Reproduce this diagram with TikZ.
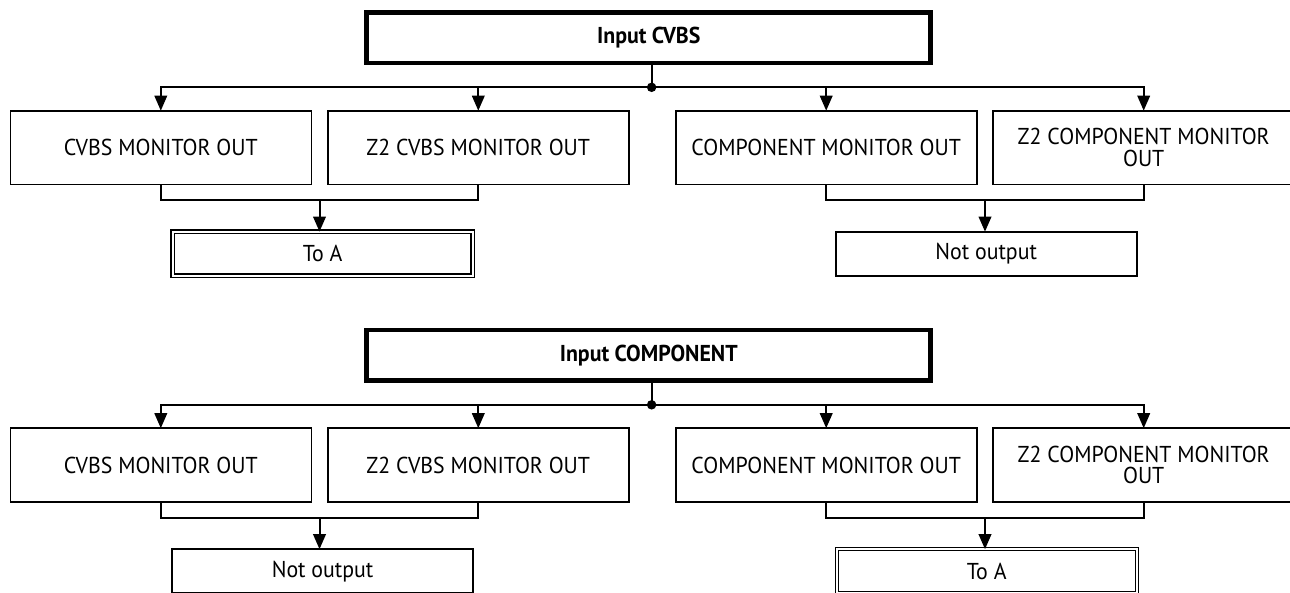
\documentclass[tikz,border=0pt]{standalone}
\usepackage{fontspec}
\setmainfont{PT Sans}[FakeStretch=0.95]
\usetikzlibrary{arrows.meta}
\tikzset{
  base/.style={inner sep=0pt, outer sep=0pt, align=center, font=\fontsize{23}{21.6}\selectfont},
  inbox/.style={base, draw, line width=4.7pt, minimum width=564, minimum height=50.5, font=\fontsize{23}{21.6}\selectfont\bfseries},
  outbox/.style={base, draw, line width=1.6pt, minimum width=301, minimum height=73.6},
  resbox/.style={base, draw, line width=1.6pt, minimum width=301, minimum height=44},
  dblbox/.style={base, draw, line width=1.1pt, double, double distance=2.2pt, minimum width=300, minimum height=44},
  conn/.style={line width=2pt},
  arr/.style={conn, -{Triangle[width=12.5pt,length=15pt]}},
  dot/.style={circle, fill, inner sep=0pt, minimum size=9.5pt}
}
\begin{document}
\begin{tikzpicture}[x=1pt,y=-1pt]
\useasboundingbox (0,0) rectangle (1290,592);
\clip (0,0) rectangle (1290,592);
\fill[white] (0,0) rectangle (1290,592);
% ---------- block 1 ----------
\node[inbox] (in1) at (648.75,37.75) {Input CVBS};
\node[dot] (j1) at (651.6,87.3) {};
\node[outbox] (a1) at (160.8,147.5) {CVBS MONITOR OUT};
\node[outbox] (b1) at (478.3,147.5) {Z2 CVBS MONITOR OUT};
\node[outbox] (c1) at (826.2,147.5) {COMPONENT MONITOR OUT};
\node[outbox] (d1) at (1143.7,147.5) {Z2 COMPONENT MONITOR\\OUT};
\node[dblbox] (r1) at (322.6,253.65) {To A};
\node[resbox] (s1) at (986.2,253.7) {Not output};
\coordinate (m1) at (319.5,200);
\coordinate (n1) at (985,200);
\draw[conn] (j1 |- in1.south) -- (j1.center);
\draw[arr] (j1.center) -| (a1.north);
\draw[arr] (j1.center) -| (b1.north);
\draw[arr] (j1.center) -| (c1.north);
\draw[arr] (j1.center) -| (d1.north);
\draw[conn] (a1.south) |- (m1) -| (b1.south);
\draw[conn] (c1.south) |- (n1) -| (d1.south);
\draw[arr] (m1) -- (m1 |- r1.north);
\draw[arr] (n1) -- (n1 |- s1.north);
% ---------- block 2 ----------
\node[inbox] (in2) at (648.75,355.25) {Input COMPONENT};
\node[dot] (j2) at (651.6,404.8) {};
\node[outbox] (a2) at (160.8,465) {CVBS MONITOR OUT};
\node[outbox] (b2) at (478.3,465) {Z2 CVBS MONITOR OUT};
\node[outbox] (c2) at (826.2,465) {COMPONENT MONITOR OUT};
\node[outbox] (d2) at (1143.7,465) {Z2 COMPONENT MONITOR\\OUT};
\node[resbox] (r2) at (322.6,571.2) {Not output};
\node[dblbox] (s2) at (986.7,571.2) {To A};
\coordinate (m2) at (319.5,517.5);
\coordinate (n2) at (985,517.5);
\draw[conn] (j2 |- in2.south) -- (j2.center);
\draw[arr] (j2.center) -| (a2.north);
\draw[arr] (j2.center) -| (b2.north);
\draw[arr] (j2.center) -| (c2.north);
\draw[arr] (j2.center) -| (d2.north);
\draw[conn] (a2.south) |- (m2) -| (b2.south);
\draw[conn] (c2.south) |- (n2) -| (d2.south);
\draw[arr] (m2) -- (m2 |- r2.north);
\draw[arr] (n2) -- (n2 |- s2.north);
\end{tikzpicture}
\end{document}
